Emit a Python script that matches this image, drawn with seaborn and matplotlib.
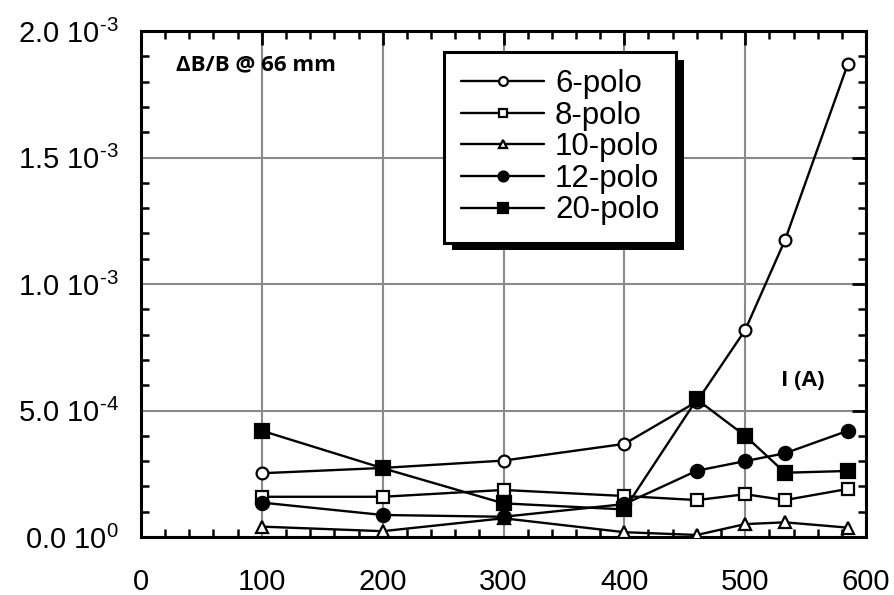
import numpy as np
import pandas as pd
import matplotlib
matplotlib.use("Agg")
import matplotlib.pyplot as plt
import matplotlib.patheffects as pe
from matplotlib.ticker import MultipleLocator, FixedLocator, FixedFormatter
import seaborn as sns

# ---- data ----
current = [100, 200, 300, 400, 460, 500, 533, 585]
polo6 = [2.52e-4, 2.73e-4, 3.02e-4, 3.68e-4, 5.35e-4, 8.18e-4, 1.174e-3, 1.87e-3]
polo8 = [1.59e-4, 1.59e-4, 1.86e-4, 1.62e-4, 1.46e-4, 1.69e-4, 1.46e-4, 1.90e-4]
polo10 = [4.1e-5, 2.3e-5, 7.4e-5, 1.9e-5, 8e-6, 5.1e-5, 5.8e-5, 3.7e-5]
polo12 = [1.36e-4, 8.7e-5, 8.0e-5, 1.30e-4, 2.62e-4, 3.0e-4, 3.31e-4, 4.2e-4]
polo20 = [4.2e-4, 2.72e-4, 1.33e-4, 1.09e-4, 5.44e-4, 4.0e-4, 2.54e-4, 2.61e-4]
series_names = ["6-polo", "8-polo", "10-polo", "12-polo", "20-polo"]
x_ticks = [0, 100, 200, 300, 400, 500, 600]
y_ticks = [0.0, 0.5e-3, 1.0e-3, 1.5e-3, 2.0e-3]
y_tick_labels = [r"0.0 10$^{0}$", r"5.0 10$^{\text{-}4}$", r"1.0 10$^{\text{-}3}$",
                 r"1.5 10$^{\text{-}3}$", r"2.0 10$^{\text{-}3}$"]
annotation_text = "ΔB/B @ 66 mm"
xlabel_text = "I (A)"

sns.set_theme(style="white")
plt.rcParams['font.family'] = ['Liberation Sans', 'DejaVu Sans']
plt.rcParams['mathtext.fontset'] = 'custom'
plt.rcParams['mathtext.rm'] = 'Liberation Sans'
plt.rcParams['mathtext.it'] = 'Liberation Sans'
plt.rcParams['mathtext.default'] = 'regular'
plt.rcParams['text.color'] = 'black'
plt.rcParams['xtick.color'] = 'black'
plt.rcParams['ytick.color'] = 'black'

df = pd.DataFrame({
    "I": current * 5,
    "val": polo6 + polo8 + polo10 + polo12 + polo20,
    "serie": sum([[n] * len(current) for n in series_names], []),
})

styles = {
    "6-polo": dict(marker="o", mfc="white", ms=8.5),
    "8-polo": dict(marker="s", mfc="white", ms=8),
    "10-polo": dict(marker="^", mfc="white", ms=8),
    "12-polo": dict(marker="o", mfc="black", ms=9.5),
    "20-polo": dict(marker="s", mfc="black", ms=10.5),
}

fig = plt.figure(figsize=(8.95, 5.95), dpi=100)
ax = fig.add_axes([141 / 895, 1 - 537 / 595, 725 / 895, 506 / 595])

for name in series_names:
    sub = df[df["serie"] == name]
    st = styles[name]
    sns.lineplot(data=sub, x="I", y="val", ax=ax, color="black", lw=1.7,
                 marker=st["marker"], markersize=st["ms"], markerfacecolor=st["mfc"],
                 markeredgecolor="black", markeredgewidth=1.6, label=name,
                 legend=False, errorbar=None, sort=False, zorder=3)

ax.set_xlim(0, 600)
ax.set_ylim(0, 2.0e-3)
ax.xaxis.set_major_locator(FixedLocator(x_ticks))
ax.xaxis.set_minor_locator(MultipleLocator(20))
ax.yaxis.set_major_locator(FixedLocator(y_ticks))
ax.yaxis.set_major_formatter(FixedFormatter(y_tick_labels))
ax.yaxis.set_minor_locator(MultipleLocator(1e-4))
ax.set_xlabel("")
ax.set_ylabel("")

ax.grid(True, which="major", color="#8a8a8a", lw=1.5, zorder=0)
ax.set_axisbelow(True)
for s in ax.spines.values():
    s.set_color("black")
    s.set_linewidth(2.2)

ax.tick_params(which="major", direction="in", length=10, width=2.0, top=True, right=True,
               labelsize=21, colors="black")
ax.tick_params(axis="y", which="major", pad=16)
ax.tick_params(axis="x", which="major", pad=22)
ax.tick_params(which="minor", direction="in", length=5.5, width=1.8, top=True, right=True,
               left=True, bottom=True, colors="black")

ax.text((256 - 141) / 725, (537 - 65) / 506, annotation_text, transform=ax.transAxes,
        ha="center", va="center", fontsize=16, fontweight="bold", color="black",
        family=["Open Sans", "DejaVu Sans"])
ax.text((803 - 141) / 725, (537 - 381) / 506, xlabel_text, transform=ax.transAxes,
        ha="center", va="center", fontsize=16, fontweight="bold", color="black",
        family=["Open Sans", "DejaVu Sans"])

handles, labels = ax.get_legend_handles_labels()
leg = ax.legend(handles, labels, loc="upper left",
                bbox_to_anchor=((444 - 141) / 725, (537 - 52) / 506),
                fontsize=22.5, frameon=True, fancybox=False, edgecolor="black",
                handlelength=2.65, handletextpad=0.35, labelspacing=0.05,
                borderpad=0.55, borderaxespad=0.0, markerscale=0.75,
                labelcolor="black")
frame = leg.get_frame()
frame.set_linewidth(2.2)
frame.set_facecolor("white")
frame.set_alpha(1)
frame.set_path_effects([pe.SimplePatchShadow(offset=(5.5, -5.5), shadow_rgbFace="black", alpha=1),
                        pe.Normal()])
leg.set_zorder(5)

fig.savefig("out.png", dpi=100)
